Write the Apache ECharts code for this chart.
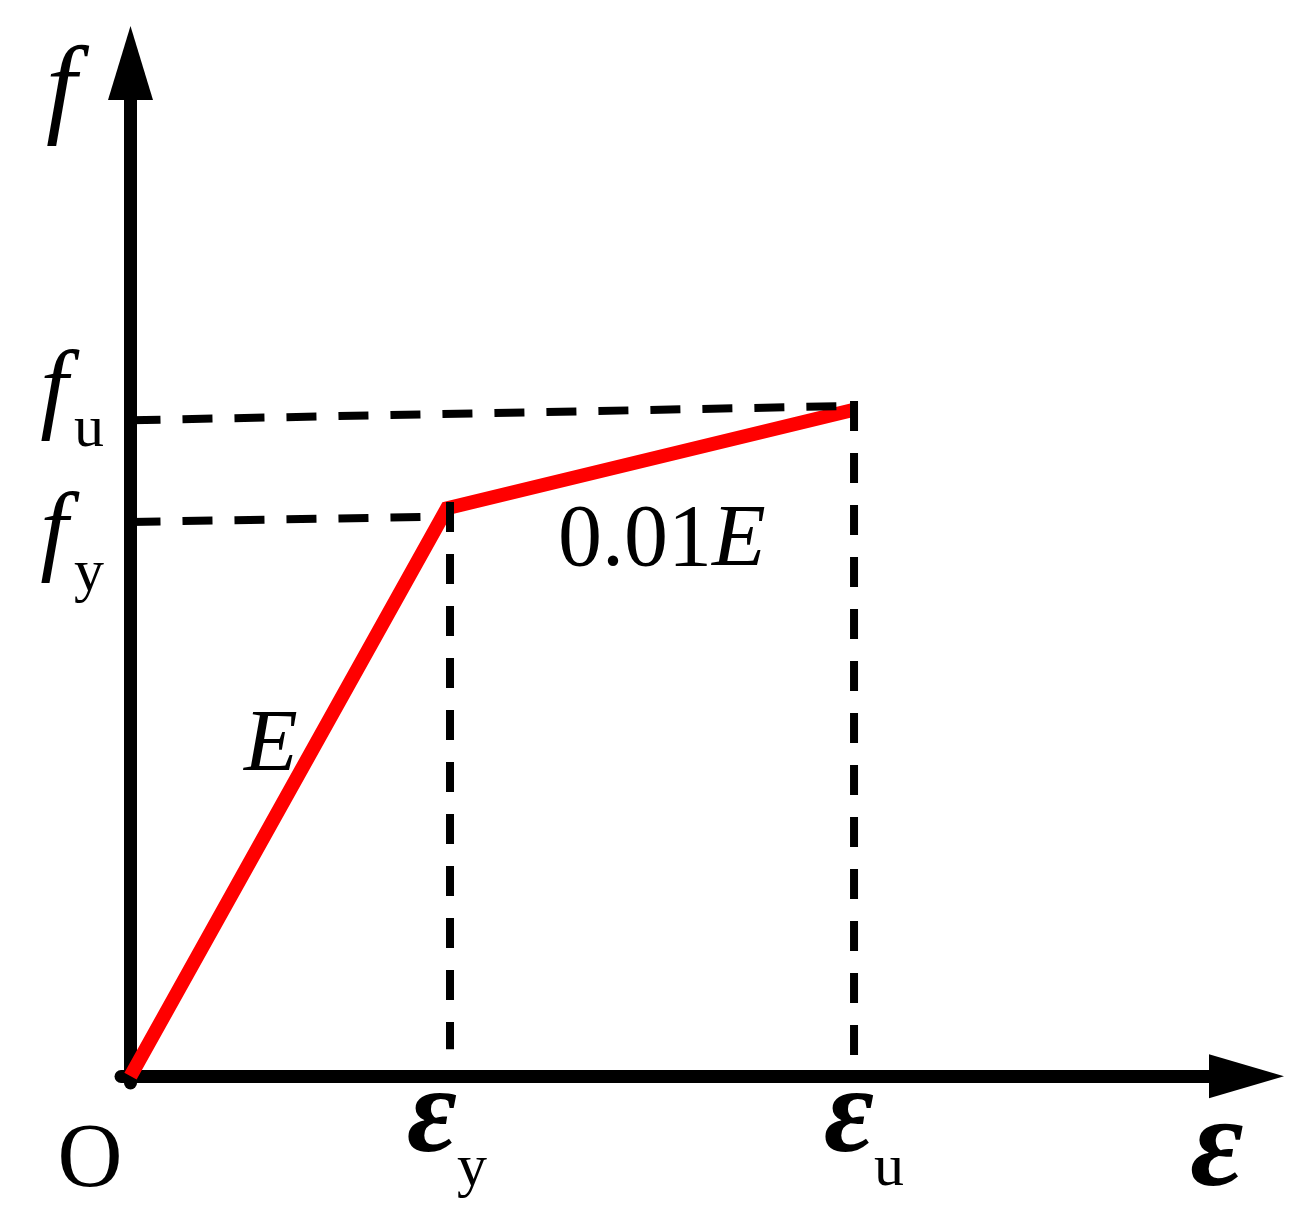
<!DOCTYPE html>
<html>
<head>
<meta charset="utf-8" />
<title>bilinear steel model</title>
<script src="https://cdn.jsdelivr.net/npm/echarts@6/dist/echarts.min.js"></script>
<style>
  html, body { margin: 0; padding: 0; background: #fff; }
  #main { width: 1306px; height: 1230px; }
</style>
</head>
<body>
<div id="main"></div>
<script>
// strain values (x) and stress values (y), in units of eps_y and f_y
var curveStrain = [0, 1.0, 2.289];
var curveStress = [0, 1.0, 1.174];

// tick values and their labels
var strainTicks = [0, 1.0, 2.289];
var strainTickLabels = ['{o|O}', '{e|ε}{s|y}', '{e2|ε}{s|u}'];
var stressTicks = [1.0, 1.174];
var stressTickLabels = ['{fy|f}{sy|y}', '{fu|f}{su|u}'];

// dashed guide lines (slightly hand-drawn)
var guideFy = [[0, 0.976], [0.98, 0.985]];
var guideFu = [[0, 1.155], [2.267, 1.180]];
var guideEy = [[1.0095, 1.011], [1.0095, 0.0475]];
var guideEu = [[2.286, 1.189], [2.286, 0.035]];

var serif = '"Liberation Serif", "Times New Roman", serif';

var myChart = echarts.init(document.getElementById('main'));

var curve = curveStrain.map(function (x, i) { return [x, curveStress[i]]; });

function guide(data) {
  return {
    type: 'line',
    data: data,
    symbol: 'none',
    silent: true,
    lineStyle: { color: '#000', width: 8, type: [30, 22], cap: 'butt' },
    z: 3
  };
}

// f_y and f_u sit on two stacked y axes so their labels are not dropped as overlapping
function stressLabel(i) {
  return {
    customValues: [stressTicks[i]],
    showMinLabel: true,
    showMaxLabel: true,
    hideOverlap: false,
    margin: 17,
    color: '#000',
    fontFamily: serif,
    formatter: function () { return stressTickLabels[i]; },
    rich: {
      fu: { fontFamily: serif, fontStyle: 'italic', fontSize: 100, lineHeight: 60, color: '#000', padding: [0, 6, 32, 0] },
      su: { fontFamily: serif, fontSize: 60, lineHeight: 60, color: '#000', padding: [42, 0, 0, 0] },
      fy: { fontFamily: serif, fontStyle: 'italic', fontSize: 100, lineHeight: 60, color: '#000', padding: [54, 6, 0, 0] },
      sy: { fontFamily: serif, fontSize: 60, lineHeight: 60, color: '#000', padding: [132, 0, 0, 0] }
    }
  };
}

myChart.setOption({
  animation: false,
  backgroundColor: '#fff',
  grid: {
    left: 121, top: 63, width: 1125.5, height: 1020,
    containLabel: false, outerBoundsMode: 'none'
  },
  xAxis: {
    type: 'value',
    min: -0.03, max: 3.526,
    name: 'ε',
    nameLocation: 'end',
    nameGap: -29.5,
    nameMoveOverlap: false,
    nameTextStyle: {
      fontFamily: serif, fontStyle: 'italic', fontWeight: 'bold', fontSize: 130,
      color: '#000', align: 'center', verticalAlign: 'top', lineHeight: 130,
      padding: [10, 0, 0, 0]
    },
    axisLine: {
      onZero: true,
      symbol: ['none', 'triangle'],
      symbolSize: [44, 75],
      lineStyle: { color: '#000', width: 13 }
    },
    axisTick: { show: false },
    splitLine: { show: false },
    axisLabel: {
      customValues: strainTicks,
      showMinLabel: true,
      showMaxLabel: true,
      hideOverlap: false,
      margin: -26,
      color: '#000',
      fontFamily: serif,
      formatter: function (v) {
        var i = strainTicks.indexOf(v);
        return i < 0 ? '' : strainTickLabels[i];
      },
      rich: {
        o: { fontFamily: serif, fontSize: 90, lineHeight: 210, color: '#000', padding: [0, 81, 0, 0] },
        e: { fontFamily: serif, fontStyle: 'italic', fontWeight: 'bold', fontSize: 122, lineHeight: 124, color: '#000' },
        e2: { fontFamily: serif, fontStyle: 'italic', fontWeight: 'bold', fontSize: 122, lineHeight: 124, color: '#000', padding: [0, 0, 0, 18] },
        s: { fontFamily: serif, fontSize: 60, lineHeight: 60, color: '#000', padding: [100, 0, 0, 0] }
      }
    }
  },
  yAxis: [
    {
      type: 'value',
      position: 'left',
      min: -0.012, max: 1.784,
      name: 'f',
      nameLocation: 'end',
      nameGap: 23.6,
      nameMoveOverlap: false,
      nameTextStyle: {
        fontFamily: serif, fontStyle: 'italic', fontSize: 110, color: '#000',
        align: 'right', verticalAlign: 'top', lineHeight: 110,
        padding: [0, 54, 0, 0]
      },
      axisLine: {
        onZero: true,
        symbol: ['none', 'triangle'],
        symbolSize: [45, 74],
        lineStyle: { color: '#000', width: 13 }
      },
      axisTick: { show: false },
      splitLine: { show: false },
      axisLabel: stressLabel(0)
    },
    {
      type: 'value',
      position: 'left',
      min: -0.012, max: 1.784,
      axisLine: { show: false, onZero: true },
      axisTick: { show: false },
      splitLine: { show: false },
      axisLabel: stressLabel(1)
    }
  ],
  graphic: [
    {
      type: 'text', x: 244, y: 747,
      style: { text: 'E', font: 'italic 88px ' + serif, fill: '#000', align: 'left', verticalAlign: 'middle' }
    },
    {
      type: 'text', x: 558, y: 542,
      style: {
        text: '{n|0.01}{i|E}', fill: '#000', align: 'left', verticalAlign: 'middle',
        rich: {
          n: { font: '88px ' + serif, fill: '#000' },
          i: { font: 'italic 88px ' + serif, fill: '#000' }
        }
      }
    }
  ],
  series: [
    {
      type: 'line',
      data: curve,
      symbol: 'none',
      silent: true,
      lineStyle: { color: '#ff0000', width: 14, join: 'miter', cap: 'butt' },
      z: 2
    },
    guide(guideFy),
    guide(guideFu),
    guide(guideEy),
    guide(guideEu)
  ]
});

window.onresize = function () {
  myChart.resize();
};
</script>
</body>
</html>
